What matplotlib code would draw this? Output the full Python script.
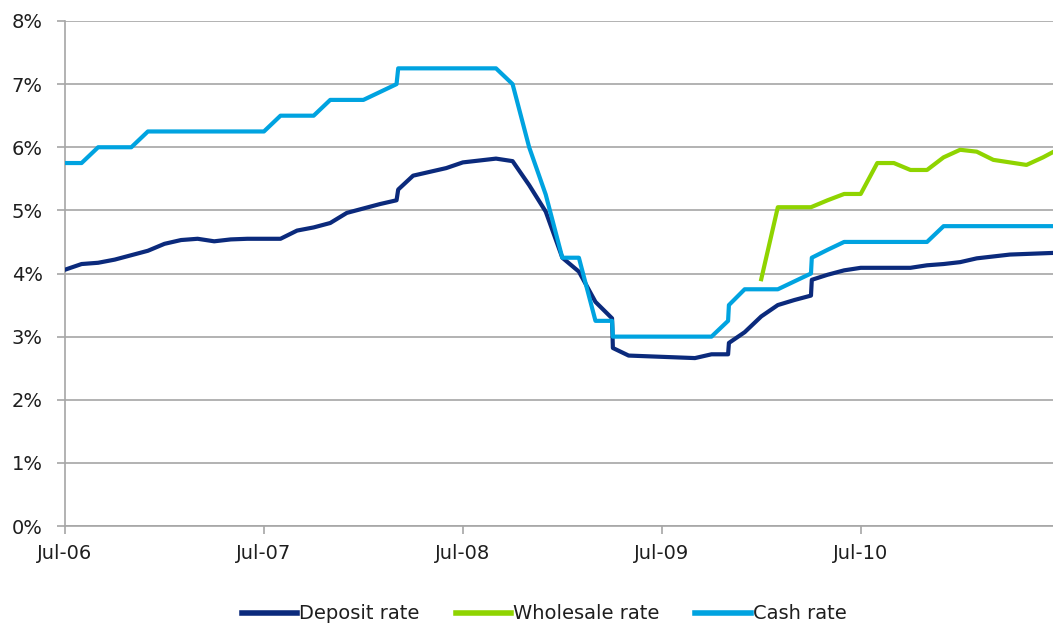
import matplotlib
matplotlib.use("Agg")
import matplotlib.pyplot as plt

# x positions: months since Jul-06 (duplicated positions shifted slightly for step jumps)
cash_x = [0, 1, 2, 3, 4, 5, 12, 13, 14, 15, 16, 17, 18, 19, 20, 20.1, 21, 26, 27, 28, 29, 30, 31, 32, 33, 33.05,
          34, 39, 40, 40.05, 41, 42, 43, 44, 45, 45.05, 46, 47, 52, 53, 60]
cash_rate = [5.75, 5.75, 6.0, 6.0, 6.0, 6.25, 6.25, 6.5, 6.5, 6.5, 6.75, 6.75, 6.75, 6.875, 7.0, 7.25, 7.25, 7.25,
             7.0, 6.0, 5.25, 4.25, 4.25, 3.25, 3.25, 3.0, 3.0, 3.0, 3.25, 3.5, 3.75, 3.75, 3.75, 3.875, 4.0, 4.25,
             4.375, 4.5, 4.5, 4.75, 4.75]

deposit_x = [0, 1, 2, 3, 4, 5, 6, 7, 8, 9, 10, 11, 12, 13, 14, 15, 16, 17, 18, 19, 20, 20.1, 21, 22, 23, 24, 25,
             26, 27, 28, 29, 30, 31, 32, 33, 33.05, 34, 35, 36, 37, 38, 39, 40, 40.05, 41, 42, 43, 44, 45, 45.05,
             46, 47, 48, 49, 50, 51, 52, 53, 54, 55, 56, 57, 58, 59, 60]
deposit_rate = [4.06, 4.15, 4.17, 4.22, 4.29, 4.36, 4.47, 4.53, 4.55, 4.51, 4.54, 4.55, 4.55, 4.55, 4.68, 4.73,
                4.80, 4.96, 5.03, 5.10, 5.16, 5.33, 5.55, 5.61, 5.67, 5.76, 5.79, 5.82, 5.78, 5.40, 4.98, 4.25,
                4.03, 3.55, 3.29, 2.82, 2.70, 2.69, 2.68, 2.67, 2.66, 2.72, 2.72, 2.90, 3.07, 3.32, 3.50, 3.58,
                3.65, 3.90, 3.98, 4.05, 4.09, 4.09, 4.09, 4.09, 4.13, 4.15, 4.18, 4.24, 4.27, 4.30, 4.31, 4.32, 4.33]

wholesale_x = [42, 43, 44, 45, 46, 47, 48, 49, 50, 51, 52, 53, 54, 55, 56, 57, 58, 59, 60]
wholesale_rate = [3.91, 5.05, 5.05, 5.05, 5.16, 5.26, 5.26, 5.75, 5.75, 5.64, 5.64, 5.84, 5.96, 5.93, 5.80, 5.76,
                  5.72, 5.84, 5.98]

tick_pos = [0, 12, 24, 36, 48]
tick_labels = ["Jul-06", "Jul-07", "Jul-08", "Jul-09", "Jul-10"]
y_ticks = [0, 1, 2, 3, 4, 5, 6, 7, 8]

fig = plt.figure(figsize=(10.53, 6.25), dpi=100)
ax = fig.add_axes([65 / 1053, 99 / 625, 1 - 65 / 1053, (526 - 21) / 625])

c_dep = "#0b2a7c"
c_whl = "#8fd400"
c_cash = "#00a3e0"

lw = 3.0
ax.plot(deposit_x, deposit_rate, color=c_dep, lw=lw, label="Deposit rate", zorder=3)
ax.plot(wholesale_x, wholesale_rate, color=c_whl, lw=lw, label="Wholesale rate", zorder=3)
ax.plot(cash_x, cash_rate, color=c_cash, lw=lw, label="Cash rate", zorder=4)

ax.set_xlim(0, 59.6)
ax.set_ylim(0, 8)
ax.set_yticks(y_ticks)
ax.set_yticklabels([f"{v}%" for v in y_ticks])
ax.set_xticks(tick_pos)
ax.set_xticklabels(tick_labels)

ax.grid(axis="y", color="#a6a6a6", lw=1.2, zorder=0)
for s in ["top", "right"]:
    ax.spines[s].set_visible(False)
for s in ["left", "bottom"]:
    ax.spines[s].set_color("#a6a6a6")
    ax.spines[s].set_linewidth(1.2)
ax.tick_params(axis="both", colors="#a6a6a6", length=6, width=1.2, labelcolor="#1e1e1e", labelsize=14)
ax.tick_params(axis="x", pad=7)
ax.tick_params(axis="y", pad=10)

leg = ax.legend(loc="center", bbox_to_anchor=(0.485, -0.174), ncol=3, frameon=False,
                fontsize=14, handlelength=2.85, handletextpad=0.1, columnspacing=1.85)
for t in leg.get_texts():
    t.set_color("#1e1e1e")
for h in leg.legend_handles:
    h.set_linewidth(4)

fig.savefig("out.png", dpi=100)
